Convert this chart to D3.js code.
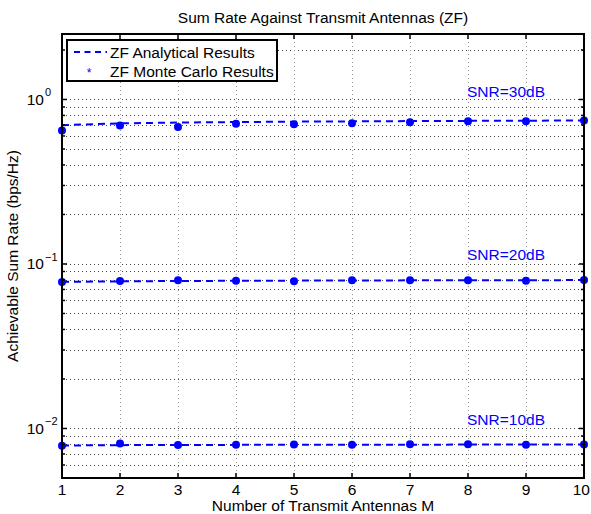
<!DOCTYPE html>
<html><head><meta charset="utf-8">
<script src="https://cdn.jsdelivr.net/npm/d3@7"></script>
<style>body{margin:0;background:#fff}svg{display:block}text{font-family:"Liberation Sans",Arial,sans-serif}</style>
</head><body><svg id="c" width="591" height="514"></svg>
<script>
const antennas = [1,2,3,4,5,6,7,8,9,10];
const xTicks = [1,2,3,4,5,6,7,8,9,10];
const yMajorTicks = [0.01, 0.1, 1];
const yTickExp = ["\u22122", "\u22121", "0"];
const snrLabels = ["SNR=30dB", "SNR=20dB", "SNR=10dB"];
const analytical30 = [0.697,0.716,0.724,0.729,0.733,0.736,0.739,0.741,0.743,0.745];
const monteCarlo30 = [0.647,0.694,0.681,0.711,0.707,0.717,0.727,0.736,0.737,0.745];
const analytical20 = [0.0778,0.0784,0.0788,0.0790,0.0792,0.0794,0.0795,0.0796,0.0797,0.0798];
const monteCarlo20 = [0.0777,0.0787,0.0797,0.0790,0.0786,0.0797,0.0795,0.0795,0.0790,0.0800];
const analytical10 = [0.00788,0.00792,0.00794,0.00795,0.00796,0.00797,0.00797,0.00798,0.00798,0.00799];
const monteCarlo10 = [0.00784,0.00810,0.00793,0.00797,0.00800,0.00797,0.00802,0.00802,0.00797,0.00800];

const svg = d3.select("#c");
const L=62, R=584, T=34, B=478;
const FS = 15.5;
const x = d3.scaleLinear().domain([1,10]).range([L,R]);
const y = d3.scaleLog().domain([0.005,2.5]).range([B,T]);
const blue = "#0000ff";

const minorVals = [];
[0.001,0.01,0.1,1].forEach(d=>{for(let k=1;k<10;k++){const v=d*k;if(v>=0.005&&v<=2.5)minorVals.push(v);}});

// grid
const g = svg.append("g");
g.selectAll(".hg").data(minorVals.filter(v=>v>0.005 && v<2.5)).enter().append("line")
  .attr("x1",L).attr("x2",R).attr("y1",d=>Math.round(y(d))+0.5).attr("y2",d=>Math.round(y(d))+0.5)
  .attr("stroke","#444").attr("stroke-width",1).attr("stroke-dasharray","1,3");
g.selectAll(".vg").data(xTicks.slice(1,-1)).enter().append("line")
  .attr("y1",T).attr("y2",B).attr("x1",d=>Math.round(x(d))+0.5).attr("x2",d=>Math.round(x(d))+0.5)
  .attr("stroke","#999").attr("stroke-width",1).attr("stroke-dasharray","1,3");

// data
const series = [[analytical30,monteCarlo30],[analytical20,monteCarlo20],[analytical10,monteCarlo10]];
const line = d3.line().x((d,i)=>x(antennas[i])).y(d=>y(d));
series.forEach(([a,m])=>{
  svg.append("path").attr("d",line(a)).attr("fill","none").attr("stroke",blue).attr("stroke-width",2).attr("stroke-dasharray","7,5");
  svg.selectAll(null).data(m).enter().append("circle")
    .attr("cx",(d,i)=>x(antennas[i])).attr("cy",d=>y(d)).attr("r",4).attr("fill",blue);
});

// SNR labels
const labelVals=[1.04,0.105,0.0105];
snrLabels.forEach((t,i)=>{
  svg.append("text").attr("x",467).attr("y",y(labelVals[i])).attr("font-size",FS).attr("fill",blue).text(t);
});

// ticks
const ax = svg.append("g").attr("stroke","#000");
xTicks.forEach(v=>{
  const px=x(v);
  ax.append("line").attr("x1",px).attr("x2",px).attr("y1",B).attr("y2",B-5).attr("stroke-width",1.5);
  ax.append("line").attr("x1",px).attr("x2",px).attr("y1",T).attr("y2",T+5).attr("stroke-width",1.5);
});
minorVals.forEach(v=>{
  const py=y(v); const len = yMajorTicks.includes(v)?5:3;
  ax.append("line").attr("x1",L).attr("x2",L+len).attr("y1",py).attr("y2",py).attr("stroke-width",1.5);
  ax.append("line").attr("x1",R).attr("x2",R-len).attr("y1",py).attr("y2",py).attr("stroke-width",1.5);
});
svg.append("rect").attr("x",L).attr("y",T).attr("width",R-L).attr("height",B-T)
  .attr("fill","none").attr("stroke","#000").attr("stroke-width",2);

// tick labels
xTicks.forEach((v,i)=>{
  const last = i===xTicks.length-1;
  svg.append("text").attr("x",last?590:x(v)).attr("y",495).attr("text-anchor",last?"end":"middle").attr("font-size",FS).text(v);
});
yMajorTicks.forEach((v,i)=>{
  svg.append("text").attr("x",44).attr("y",y(v)+5.5).attr("text-anchor","end").attr("font-size",FS).text("10");
  svg.append("text").attr("x",45).attr("y",y(v)-3).attr("font-size",11).text(yTickExp[i]);
});

// titles
svg.append("text").attr("x",323).attr("y",23).attr("text-anchor","middle").attr("font-size",FS).text("Sum Rate Against Transmit Antennas (ZF)");
svg.append("text").attr("x",323).attr("y",511).attr("text-anchor","middle").attr("font-size",FS).text("Number of Transmit Antennas M");
svg.append("text").attr("transform","translate(18,256) rotate(-90)").attr("text-anchor","middle").attr("font-size",FS).text("Achievable Sum Rate (bps/Hz)");

// legend
const lg = svg.append("g");
lg.append("rect").attr("x",67).attr("y",40).attr("width",210).attr("height",41).attr("fill","#fff").attr("stroke","#000").attr("stroke-width",2);
lg.append("line").attr("x1",74).attr("x2",107).attr("y1",52).attr("y2",52).attr("stroke",blue).attr("stroke-width",2).attr("stroke-dasharray","6,4.5");
lg.append("text").attr("x",110).attr("y",57.5).attr("font-size",FS).text("ZF Analytical Results");
lg.append("text").attr("x",89).attr("y",77).attr("text-anchor","middle").attr("font-size",12).attr("fill",blue).text("*");
lg.append("text").attr("x",110).attr("y",76.5).attr("font-size",FS).text("ZF Monte Carlo Results");
</script></body></html>
